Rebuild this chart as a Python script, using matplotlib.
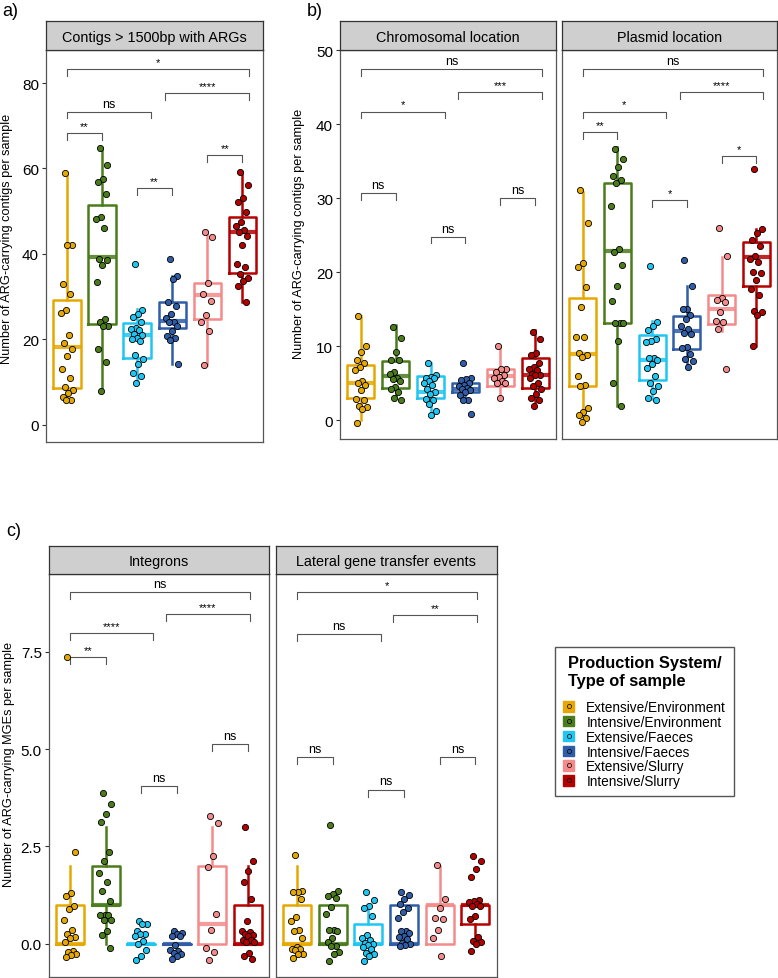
import numpy as np
import matplotlib
matplotlib.use("Agg")
import matplotlib.pyplot as plt
from matplotlib.lines import Line2D
from matplotlib.patches import Patch
from matplotlib.legend_handler import HandlerTuple
from matplotlib.ticker import FormatStrFormatter

plt.rcParams['font.family'] = ['Liberation Sans', 'DejaVu Sans']

GROUPS = ["Extensive/Environment", "Intensive/Environment", "Extensive/Faeces",
          "Intensive/Faeces", "Extensive/Slurry", "Intensive/Slurry"]
COLORS = ["#E6A800", "#4A7C1C", "#1EC6F4", "#2F5DA8", "#F48A8A", "#B50000"]

# ---- a) contigs > 1500bp with ARGs
a_points = [
    [58.9, 42.1, 42.1, 32.9, 30.5, 26.8, 26.1, 20.9, 19.2, 17.8, 16.0, 13.0, 11.0, 8.7, 8.2, 7.3, 6.5, 5.7, 5.7],
    [64.7, 60.9, 57.5, 56.9, 54.0, 48.6, 48.2, 46.0, 38.8, 38.6, 37.3, 33.3, 24.7, 24.1, 23.2, 23.2, 17.7, 14.7, 7.8],
    [37.5, 26.8, 26.0, 25.3, 24.1, 22.6, 22.4, 22.2, 21.3, 20.9, 20.4, 20.1, 19.5, 16.2, 15.4, 14.1, 12.2, 11.5, 9.8],
    [38.7, 34.7, 34.0, 28.8, 27.7, 25.9, 24.9, 24.0, 24.0, 23.0, 22.0, 20.7, 20.2, 19.8, 14.2],
    [45.0, 44.0, 33.2, 30.7, 29.0, 25.7, 24.1, 21.9, 13.9],
    [59.1, 56.2, 53.0, 52.1, 49.7, 47.4, 46.4, 45.6, 45.0, 44.1, 42.1, 37.6, 37.0, 35.2, 34.3, 33.6, 32.5, 28.6],
]
# (lower whisker, q1, median, q3, upper whisker)
a_boxes = [(6.0, 8.6, 18.1, 29.2, 58.9), (8.4, 23.6, 39.2, 51.5, 64.7),
           (9.8, 15.5, 21.1, 23.7, 27.1), (14.2, 22.6, 24.2, 28.6, 34.9),
           (13.9, 24.7, 30.4, 33.1, 45.0), (28.6, 35.5, 45.0, 48.6, 59.1)]
a_brackets = [(1, 6.2, 83.3, "*"), (3.8, 6.2, 77.7, "****"), (1, 3.4, 73.3, "ns"),
              (1, 2, 68.2, "**"), (3, 4, 55.3, "**"), (5, 6, 63.2, "**")]

# ---- b) chromosomal location
bc_points = [
    [14.1, 10.0, 9.2, 8.2, 7.7, 7.2, 6.8, 5.3, 5.0, 4.8, 4.1, 2.9, 2.7, 2.0, 1.8, 1.6, -0.3],
    [12.6, 11.2, 9.2, 8.1, 8.1, 6.5, 6.3, 5.7, 5.6, 5.3, 4.5, 4.3, 3.9, 3.0, 2.7],
    [7.7, 6.1, 5.9, 5.8, 5.7, 5.3, 5.0, 4.8, 4.2, 3.9, 3.6, 2.9, 2.8, 2.2, 1.3, 0.7],
    [7.7, 5.7, 5.6, 5.4, 5.1, 4.8, 4.6, 4.4, 4.3, 4.1, 3.8, 3.5, 2.8, 2.8, 0.9],
    [10.0, 7.0, 6.9, 6.5, 6.1, 5.9, 5.7, 5.3, 5.1, 5.0, 3.1],
    [12.0, 11.0, 9.1, 8.9, 7.8, 7.2, 6.9, 6.8, 6.3, 6.2, 6.1, 5.7, 5.1, 4.7, 4.2, 3.6, 3.0, 2.7, 1.9],
]
bc_boxes = [(0.0, 3.0, 5.1, 7.5, 14.1), (3.0, 4.4, 6.0, 8.0, 12.9),
            (0.6, 3.0, 3.9, 6.0, 7.8), (2.8, 3.8, 4.3, 5.0, 5.8),
            (3.0, 4.7, 6.0, 7.0, 10.0), (2.0, 4.4, 6.1, 8.4, 12.2)]
bc_brackets = [(1, 6.2, 47.4, "ns"), (3.8, 6.2, 44.3, "***"), (1, 3.4, 41.7, "*"),
               (1, 2, 30.7, "ns"), (3, 4, 24.8, "ns"), (5, 6, 30.0, "ns")]

# ---- b) plasmid location
bp_points = [
    [31.1, 26.7, 21.3, 20.7, 18.0, 15.3, 11.3, 11.3, 9.1, 8.9, 8.6, 6.0, 4.8, 4.6, 1.7, 1.1, 0.7, 0.3, -0.2],
    [36.6, 35.3, 34.2, 33.0, 32.4, 32.1, 29.0, 23.1, 22.8, 21.0, 18.1, 16.1, 13.2, 13.2, 13.2, 10.7, 5.1, 2.0],
    [20.8, 13.3, 12.7, 12.2, 11.0, 10.7, 10.6, 8.5, 8.5, 8.2, 7.6, 7.1, 6.0, 5.1, 4.6, 4.0, 3.1, 2.7],
    [21.7, 18.1, 15.0, 15.0, 14.3, 13.7, 12.7, 12.3, 11.8, 11.7, 9.9, 9.8, 9.0, 8.3, 8.0, 7.2],
    [26.0, 22.2, 16.6, 16.2, 16.0, 14.7, 13.4, 13.3, 12.3, 7.0],
    [33.9, 25.9, 25.3, 24.4, 23.5, 22.2, 21.8, 21.4, 20.0, 19.9, 18.9, 17.7, 16.9, 14.8, 14.6, 14.3, 10.0],
]
bp_boxes = [(0.0, 4.6, 9.0, 16.5, 30.9), (2.0, 13.1, 22.9, 32.1, 36.9),
            (2.9, 5.5, 8.1, 11.6, 13.4), (7.2, 9.6, 12.1, 14.1, 18.1),
            (12.1, 13.0, 15.1, 16.9, 22.0), (10.1, 18.1, 22.1, 24.1, 25.9)]
bp_brackets = [(1, 6.2, 47.4, "ns"), (3.8, 6.2, 44.3, "****"), (1, 3.4, 41.7, "*"),
               (1, 2, 38.9, "**"), (3, 4, 29.7, "*"), (5, 6, 35.7, "*")]

# ---- c) integrons
ci_points = [
    [7.35, 2.36, 1.31, 1.24, 0.98, 0.90, 0.62, 0.35, 0.26, 0.18, 0.15, 0.05, -0.17, -0.21, -0.25, -0.29, -0.33],
    [3.88, 3.58, 3.33, 3.13, 2.36, 2.12, 1.82, 1.58, 1.35, 1.11, 0.75, 0.75, 0.73, 0.62, 0.61, 0.32, 0.22, -0.10],
    [0.58, 0.52, 0.50, 0.32, 0.26, 0.26, 0.21, 0.07, 0.0, -0.15, -0.32, -0.40],
    [0.32, 0.28, 0.26, 0.20, 0.20, -0.02, -0.15, -0.19, -0.23, -0.25, -0.30, -0.38],
    [3.29, 3.11, 2.26, 1.97, 0.76, 0.35, -0.10, -0.20, -0.40],
    [3.01, 2.12, 1.86, 1.60, 1.15, 0.58, 0.32, 0.30, 0.26, 0.24, 0.21, 0.11, 0.09, 0.05, 0.05, -0.23, -0.32, -0.38],
]
ci_boxes = [(0, 0, 0, 1, 2), (0, 1, 1, 2, 3), (0, 0, 0, 0, 0),
            (0, 0, 0, 0, 0), (0, 0, 0.5, 2, 3), (0, 0, 0, 1, 2)]
ci_brackets = [(1, 6.05, 9.03, "ns"), (3.7, 6.05, 8.47, "****"), (1, 3.33, 7.98, "****"),
               (1, 2, 7.36, "**"), (3, 4, 4.04, "ns"), (5, 6, 5.12, "ns")]

# ---- c) lateral gene transfer events
cl_points = [
    [2.27, 1.37, 1.33, 1.33, 1.16, 0.69, 0.58, 0.37, 0.32, 0.15, -0.09, -0.12, -0.13, -0.15, -0.25, -0.27, -0.36],
    [3.04, 1.37, 1.29, 1.22, 1.18, 0.95, 0.78, 0.37, 0.37, 0.32, 0.15, 0.05, -0.06, -0.06, -0.21, -0.25, -0.43],
    [1.33, 1.13, 0.98, 0.92, 0.71, 0.22, 0.15, 0.11, 0.03, 0.01, -0.02, -0.08, -0.13, -0.23, -0.27, -0.30, -0.43],
    [1.33, 1.25, 1.16, 1.03, 0.92, 0.82, 0.67, 0.34, 0.32, 0.28, 0.20, 0.18, 0.13, 0.03, 0.01, -0.02, -0.06],
    [2.03, 1.16, 0.92, 0.67, 0.64, 0.35, 0.15, -0.30],
    [2.26, 2.13, 1.92, 1.71, 1.12, 1.09, 1.07, 1.03, 0.98, 0.98, 0.71, 0.64, 0.18, 0.07, 0.05, 0.0, -0.17],
]
cl_boxes = [(0, 0, 0, 1, 2), (0, 0, 0, 1, 1), (0, 0, 0, 0.5, 1),
            (0, 0, 0, 1, 1), (0, 0, 1, 1, 2), (0, 0.5, 1, 1, 1)]
cl_brackets = [(1, 6.05, 9.02, "*"), (3.7, 6.05, 8.44, "**"), (1, 3.35, 7.96, "ns"),
               (1, 2, 4.79, "ns"), (3, 4, 3.96, "ns"), (5, 6, 4.79, "ns")]

W, H = 778, 979


def rect(x0, x1, y0, y1):
    return [x0 / W, 1 - y1 / H, (x1 - x0) / W, (y1 - y0) / H]


def jitter(n):
    # deterministic spread of the points around the box centre
    return ((np.arange(n) * 0.618034 + 0.3) % 1 - 0.5) * 0.36


def strip(fig, x0, x1, y0, y1, title):
    sax = fig.add_axes(rect(x0, x1, y0, y1))
    sax.set_facecolor("#CFCFCF")
    sax.set_xticks([])
    sax.set_yticks([])
    for s in sax.spines.values():
        s.set_color("#333333")
        s.set_linewidth(0.9)
    sax.text(0.5, 0.45, title, ha="center", va="center", fontsize=10.4,
             transform=sax.transAxes)


def draw_panel(ax, points, boxes, brackets, ylim, tip):
    for i, (b, c) in enumerate(zip(boxes, COLORS)):
        st = dict(whislo=b[0], q1=b[1], med=b[2], q3=b[3], whishi=b[4])
        ax.bxp([st], positions=[i + 1], widths=0.78, showfliers=False, showcaps=False,
               boxprops=dict(color=c, lw=1.8), whiskerprops=dict(color=c, lw=1.8),
               medianprops=dict(color=c, lw=3.0, alpha=0.85))
        ys = np.array(points[i])
        ax.scatter(i + 1 + jitter(len(ys)), ys, s=20, c=c, edgecolors="black",
                   linewidths=0.6, zorder=3)
    for x1, x2, y, lab in brackets:
        ax.plot([x1, x1, x2, x2], [y - tip, y, y, y - tip], color="#555555", lw=0.8)
        ax.annotate(lab, ((x1 + x2) / 2, y), xytext=(0, 1.5), textcoords="offset points",
                    ha="center", va="bottom", fontsize=9 if lab == "ns" else 8)
    ax.set_xlim(0.4, 6.6)
    ax.set_ylim(*ylim)
    ax.set_xticks([])
    for s in ax.spines.values():
        s.set_color("#555555")
        s.set_linewidth(0.9)
    ax.tick_params(axis="y", length=3, width=0.8, color="#333333", labelsize=11, pad=2)


def main():
    fig = plt.figure(figsize=(W / 100, H / 100), dpi=100)

    # a)
    ax_a = fig.add_axes(rect(46, 263.3, 50.7, 442.7))
    draw_panel(ax_a, a_points, a_boxes, a_brackets, (-4, 87.8), 1.6)
    ax_a.set_yticks([0, 20, 40, 60, 80])
    ax_a.set_ylabel("Number of ARG-carrying contigs per sample", fontsize=9.2)
    ax_a.yaxis.set_label_coords(-0.15, 0.52)
    strip(fig, 46, 263.3, 22, 50.7, "Contigs > 1500bp with ARGs")

    # b)
    ax_bc = fig.add_axes(rect(340, 556, 50.7, 440))
    draw_panel(ax_bc, bc_points, bc_boxes, bc_brackets, (-2.5, 50.05), 0.9)
    ax_bc.set_yticks([0, 10, 20, 30, 40, 50])
    ax_bc.set_ylabel("Number of ARG-carrying contigs per sample", fontsize=9.2)
    ax_bc.yaxis.set_label_coords(-0.16, 0.53)
    strip(fig, 340, 556, 22, 50.7, "Chromosomal location")

    ax_bp = fig.add_axes(rect(561.7, 777.3, 50.7, 440))
    draw_panel(ax_bp, bp_points, bp_boxes, bp_brackets, (-2.5, 50.05), 0.9)
    ax_bp.set_yticks([])
    strip(fig, 561.7, 777.3, 22, 50.7, "Plasmid location")

    # c)
    ax_ci = fig.add_axes(rect(48.7, 269.3, 575, 977.7))
    draw_panel(ax_ci, ci_points, ci_boxes, ci_brackets, (-0.84, 9.49), 0.18)
    ax_ci.set_yticks([0, 2.5, 5.0, 7.5])
    ax_ci.yaxis.set_major_formatter(FormatStrFormatter("%.1f"))
    ax_ci.set_ylabel("Number of ARG-carrying MGEs per sample", fontsize=9.2)
    ax_ci.yaxis.set_label_coords(-0.152, 0.53)
    strip(fig, 48.7, 269.3, 546.7, 575, "Integrons")

    ax_cl = fig.add_axes(rect(275.7, 496.7, 575, 977.7))
    draw_panel(ax_cl, cl_points, cl_boxes, cl_brackets, (-0.84, 9.49), 0.18)
    ax_cl.set_yticks([])
    strip(fig, 275.7, 496.7, 546.7, 575, "Lateral gene transfer events")

    # panel letters
    fig.text(2 / W, 1 - 12 / H, "a)", fontsize=13, va="center")
    fig.text(307 / W, 1 - 12 / H, "b)", fontsize=13, va="center")
    fig.text(6 / W, 1 - 532 / H, "c)", fontsize=13, va="center")

    # legend
    handles = [(Patch(facecolor=c, edgecolor=c),
                Line2D([], [], marker="o", ls="none", mfc=c, mec="black", ms=3, mew=0.5))
               for c in COLORS]
    leg = fig.legend(handles, GROUPS, handler_map={tuple: HandlerTuple(ndivide=1)},
                     title="Production System/\nType of sample",
                     title_fontproperties={"weight": "bold", "size": 11.8},
                     loc="upper left", bbox_to_anchor=(555 / W, 1 - 648 / H),
                     borderaxespad=0, frameon=True, fancybox=False,
                     edgecolor="#555555", framealpha=1,
                     fontsize=9.8, handlelength=0.8, handleheight=0.8, labelspacing=0.06,
                     borderpad=0.6, handletextpad=0.9)
    leg._legend_box.sep = 9

    fig.savefig("out.png", dpi=100)


if __name__ == "__main__":
    main()
